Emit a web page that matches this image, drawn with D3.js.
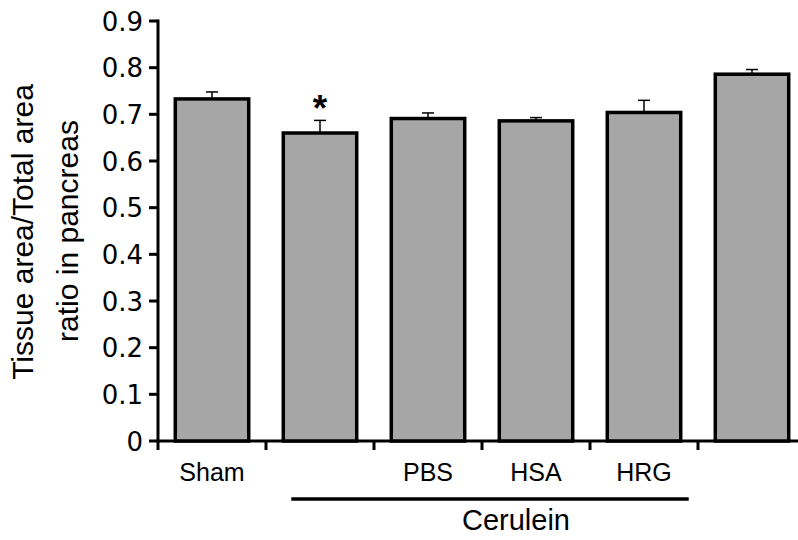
<!DOCTYPE html>
<html>
<head>
<meta charset="utf-8">
<script src="https://cdn.jsdelivr.net/npm/d3@7"></script>
<style>
  body { margin: 0; background: #fff; }
  text { font-family: "Liberation Sans", Arial, sans-serif; }
</style>
</head>
<body>
<script>
// groups and their values
const groups = ["Sham", "Cer", "PBS", "HSA", "HRG", "Extra"];
const groupLabels = ["Sham", "", "PBS", "HSA", "HRG", ""];
const means = [0.733, 0.660, 0.691, 0.686, 0.704, 0.786];
const errors = [0.015, 0.027, 0.012, 0.007, 0.026, 0.010];
const stars = ["", "*", "", "", "", ""];
const yTicks = [0, 0.1, 0.2, 0.3, 0.4, 0.5, 0.6, 0.7, 0.8, 0.9];

const width = 798, height = 540;
const x0 = 158, yTop = 21, yBottom = 441;
const bandW = 108;

const svg = d3.select("body").append("svg")
  .attr("width", width)
  .attr("height", height);

const x = d3.scaleBand()
  .domain(groups)
  .range([x0, x0 + bandW * groups.length])
  .paddingInner(0.32)
  .paddingOuter(0.16);

const y = d3.scaleLinear()
  .domain([0, 0.9])
  .range([yBottom, yTop]);

// y axis
svg.append("line")
  .attr("x1", x0).attr("x2", x0)
  .attr("y1", y(0.9) - 1.5).attr("y2", yBottom + 1.5)
  .attr("stroke", "black").attr("stroke-width", 3);

svg.selectAll(".ytick")
  .data(yTicks)
  .enter()
  .append("line")
    .attr("x1", x0 - 9).attr("x2", x0)
    .attr("y1", d => y(d)).attr("y2", d => y(d))
    .attr("stroke", "black").attr("stroke-width", 3);

svg.selectAll(".ylab")
  .data(yTicks)
  .enter()
  .append("text")
    .attr("x", x0 - 15)
    .attr("y", d => y(d) + 9.5)
    .attr("text-anchor", "end")
    .style("font-family", "'DejaVu Sans', sans-serif")
    .style("font-size", "26px")
    .text(d => d === 0 ? "0" : d.toFixed(1));

// x axis
svg.append("line")
  .attr("x1", x0 - 1.5).attr("x2", width)
  .attr("y1", yBottom).attr("y2", yBottom)
  .attr("stroke", "black").attr("stroke-width", 3);

const boundaries = d3.range(groups.length + 1).map(i => x0 + i * bandW);
svg.selectAll(".xtick")
  .data(boundaries)
  .enter()
  .append("line")
    .attr("x1", d => d).attr("x2", d => d)
    .attr("y1", yBottom).attr("y2", yBottom + 9)
    .attr("stroke", "black").attr("stroke-width", 3);

// error bars (behind bars)
svg.selectAll(".err")
  .data(groups)
  .enter()
  .append("line")
    .attr("x1", d => x(d) + x.bandwidth() / 2)
    .attr("x2", d => x(d) + x.bandwidth() / 2)
    .attr("y1", (d, i) => y(means[i]))
    .attr("y2", (d, i) => y(means[i] + errors[i]))
    .attr("stroke", "black").attr("stroke-width", 1.5);

svg.selectAll(".cap")
  .data(groups)
  .enter()
  .append("line")
    .attr("x1", d => x(d) + x.bandwidth() / 2 - 6)
    .attr("x2", d => x(d) + x.bandwidth() / 2 + 6)
    .attr("y1", (d, i) => y(means[i] + errors[i]))
    .attr("y2", (d, i) => y(means[i] + errors[i]))
    .attr("stroke", "black").attr("stroke-width", 1.5);

// bars
svg.selectAll(".bar")
  .data(groups)
  .enter()
  .append("rect")
    .attr("x", d => x(d))
    .attr("width", x.bandwidth())
    .attr("y", (d, i) => y(means[i]))
    .attr("height", (d, i) => yBottom - y(means[i]))
    .attr("fill", "#a6a6a6")
    .attr("stroke", "black")
    .attr("stroke-width", 3.5);

// significance
svg.selectAll(".star")
  .data(groups)
  .enter()
  .append("text")
    .attr("x", d => x(d) + x.bandwidth() / 2)
    .attr("y", (d, i) => y(means[i] + errors[i]) + 1)
    .attr("text-anchor", "middle")
    .style("font-size", "37px")
    .style("font-weight", "bold")
    .text((d, i) => stars[i]);

// category labels
svg.selectAll(".xlab")
  .data(groups)
  .enter()
  .append("text")
    .attr("x", d => x(d) + x.bandwidth() / 2)
    .attr("y", 481)
    .attr("text-anchor", "middle")
    .style("font-size", "25px")
    .text((d, i) => groupLabels[i]);

// Cerulein bracket
const cerStart = x("Cer") + 8, cerEnd = x("HRG") + x.bandwidth() + 8;
svg.append("line")
  .attr("x1", cerStart).attr("x2", cerEnd)
  .attr("y1", 499).attr("y2", 499)
  .attr("stroke", "black").attr("stroke-width", 3.5);

svg.append("text")
  .attr("x", (cerStart + cerEnd) / 2 + 26)
  .attr("y", 530)
  .attr("text-anchor", "middle")
  .style("font-size", "29px")
  .text("Cerulein");

// y axis title
svg.append("text")
  .attr("transform", "translate(33,232) rotate(-90)")
  .attr("text-anchor", "middle")
  .style("font-size", "30px")
  .text("Tissue area/Total area");
svg.append("text")
  .attr("transform", "translate(78,231) rotate(-90)")
  .attr("text-anchor", "middle")
  .style("font-size", "30px")
  .text("ratio in pancreas");
</script>
</body>
</html>
